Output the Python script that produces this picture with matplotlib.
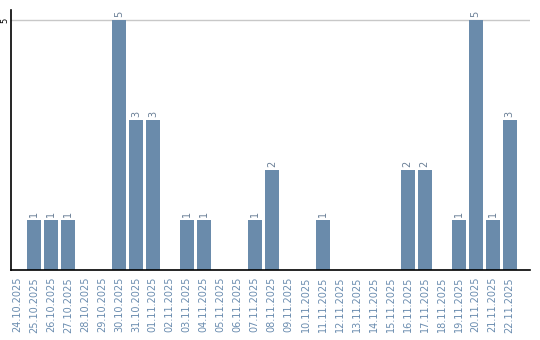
import matplotlib
matplotlib.use("Agg")
import matplotlib.pyplot as plt

dates = ["24.10.2025", "25.10.2025", "26.10.2025", "27.10.2025", "28.10.2025",
         "29.10.2025", "30.10.2025", "31.10.2025", "01.11.2025", "02.11.2025",
         "03.11.2025", "04.11.2025", "05.11.2025", "06.11.2025", "07.11.2025",
         "08.11.2025", "09.11.2025", "10.11.2025", "11.11.2025", "12.11.2025",
         "13.11.2025", "14.11.2025", "15.11.2025", "16.11.2025", "17.11.2025",
         "18.11.2025", "19.11.2025", "20.11.2025", "21.11.2025", "22.11.2025"]
counts = [0, 1, 1, 1, 0, 0, 5, 3, 3, 0, 1, 1, 0, 0, 1, 2, 0, 0, 1, 0,
          0, 0, 0, 2, 2, 0, 1, 5, 1, 3]

bar_color = "#6a8bab"
label_color = "#6a8caf"

fig = plt.figure(figsize=(5.4, 3.4), dpi=100)
ax = fig.add_axes([11/540, 1-270/340, 519/540, 260/340])

x = list(range(len(dates)))
bars = ax.bar(x, counts, width=0.82, color=bar_color, zorder=2)
for xi, v in zip(x, counts):
    if v > 0:
        ax.text(xi, v + 0.06, str(v), rotation=90, ha="center", va="bottom",
                fontsize=7, color="#6a7f96")

ax.set_xlim(-0.35, 30.2)
ax.set_ylim(0, 5.2)
ax.set_yticks([5])
ax.set_yticklabels(["5"], rotation=90, fontsize=6, va="center")
ax.axhline(5, color="#c8c8c8", linewidth=1, zorder=1)
ax.tick_params(axis="y", length=0, pad=1)

ax.set_xticks(x)
ax.set_xticklabels(dates, rotation=90, fontsize=7, color=label_color)
ax.tick_params(axis="x", length=0, pad=5)

ax.spines["top"].set_visible(False)
ax.spines["right"].set_visible(False)
ax.spines["left"].set_color("black")
ax.spines["bottom"].set_color("black")
ax.spines["left"].set_linewidth(1.2)
ax.spines["bottom"].set_linewidth(1.2)

fig.savefig("out.png", dpi=100)
